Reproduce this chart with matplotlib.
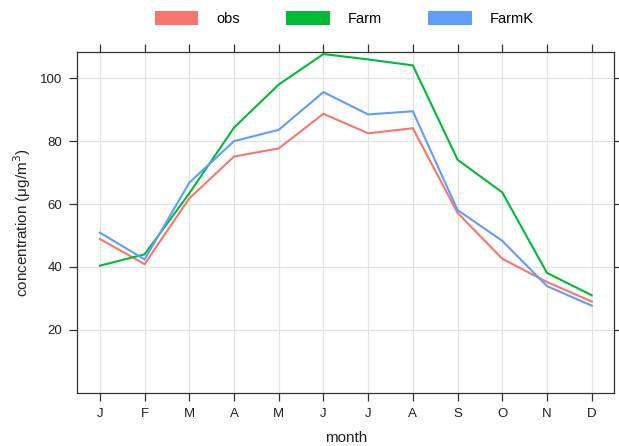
import matplotlib
matplotlib.use("Agg")
import matplotlib.pyplot as plt
from matplotlib.patches import Patch

# monthly mean concentrations, observed vs two model runs
months = ["J", "F", "M", "A", "M", "J", "J", "A", "S", "O", "N", "D"]
obs = [48.9, 40.9, 61.8, 75.1, 77.7, 88.7, 82.5, 84.1, 57.2, 42.6, 35.2, 29.0]
farm = [40.4, 44.0, 63.4, 84.3, 98.0, 107.7, 106.0, 104.1, 74.1, 63.7, 38.1, 31.0]
farmk = [50.9, 42.4, 66.8, 80.0, 83.6, 95.6, 88.5, 89.5, 58.1, 48.3, 33.9, 27.7]

series = [("obs", obs, "#F8766D"), ("Farm", farm, "#00BA38"), ("FarmK", farmk, "#619CFF")]

plt.rcParams["font.family"] = ["Liberation Sans", "DejaVu Sans"]

fig = plt.figure(figsize=(6.19, 4.46), dpi=100)
ax = fig.add_axes([0.1252, 0.1195, 0.992 - 0.1252, 0.8823 - 0.1195])

x = list(range(1, len(months) + 1))
for name, vals, col in series:
    ax.plot(x, vals, color=col, lw=1.5, solid_joinstyle="miter")

ax.set_xlim(0.5, 12.5)
ax.set_ylim(0, 108.2)
ax.set_xticks(x)
ax.set_xticklabels(months)
ax.set_yticks([20, 40, 60, 80, 100])

ax.grid(True, color="#E3E3E3", lw=0.9)
ax.set_axisbelow(True)
for sp in ax.spines.values():
    sp.set_color("#333333")
    sp.set_linewidth(0.9)

ax.tick_params(axis="both", direction="out", length=6, width=0.9, color="#333333",
               labelsize=9.5, labelcolor="#222222", pad=5)
ax.tick_params(top=True, right=True, labeltop=False, labelright=False)

ax.set_xlabel("month", fontsize=11, color="#222222", labelpad=8)
ax.set_ylabel("concentration (\u03bcg/m$^3$)", fontsize=11, color="#222222", labelpad=5)

handles = [Patch(facecolor=col, edgecolor="none", label=name) for name, vals, col in series]
fig.legend(handles=handles, loc="upper center", bbox_to_anchor=(0.556, 1.005), ncol=3,
           frameon=False, fontsize=10.5, handlelength=3.0, handleheight=1.15,
           handletextpad=1.2, columnspacing=3.2)

fig.savefig("out.png", dpi=100)
